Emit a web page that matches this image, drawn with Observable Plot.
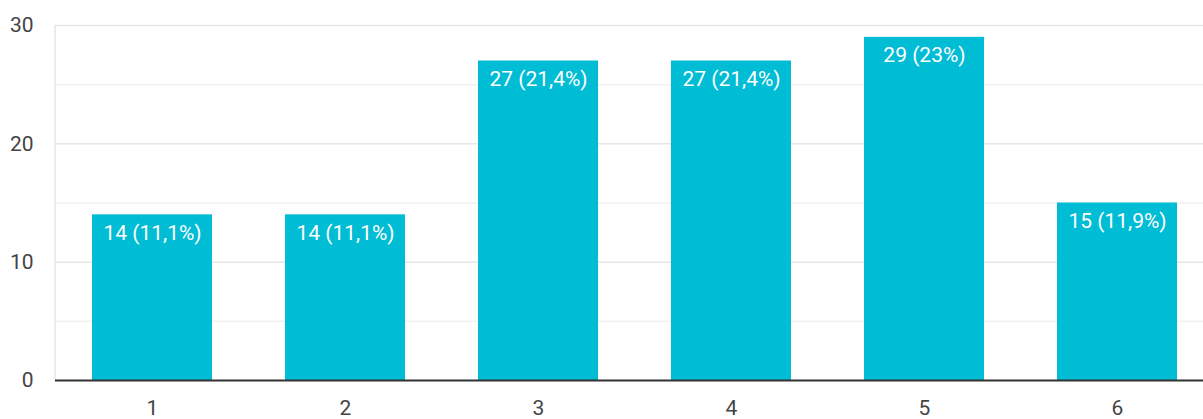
<!DOCTYPE html>
<html>
<head>
<meta charset="utf-8">
<script src="https://cdn.jsdelivr.net/npm/d3@7"></script>
<script src="https://cdn.jsdelivr.net/npm/@observablehq/plot@0.6"></script>
<style>
  html, body { margin: 0; padding: 0; background: #fff; }
  #chart svg { display: block; }
</style>
</head>
<body>
<div id="chart"></div>
<script>
const categories = ["1", "2", "3", "4", "5", "6"];
const counts = [14, 14, 27, 27, 29, 15];
const labels = ["14 (11,1%)", "14 (11,1%)", "27 (21,4%)", "27 (21,4%)", "29 (23%)", "15 (11,9%)"];
const majorTicks = [0, 10, 20, 30];
const minorTicks = [5, 15, 25];

const data = categories.map((c, i) => ({cat: c, value: counts[i], label: labels[i]}));

const font = "Roboto, 'Liberation Sans', Arial, sans-serif";

// left frame line drawn from the y scale's extent
function leftLine(index, scales, values, dims) {
  const g = d3.create("svg:g");
  const [y0, y1] = scales.y.range ? [scales.y(0), scales.y(30)] : [0, 0];
  g.append("line")
    .attr("x1", dims.marginLeft).attr("x2", dims.marginLeft)
    .attr("y1", y0).attr("y2", y1)
    .attr("stroke", "#e6e6e6").attr("stroke-width", 1.5);
  return g.node();
}

const chart = Plot.plot({
  width: 1203,
  height: 419,
  marginLeft: 55,
  marginTop: 25,
  marginBottom: 39,
  marginRight: 0,
  style: {fontFamily: font, background: "#fff"},
  x: {domain: categories, range: [56, 1214], paddingInner: 0.378, paddingOuter: 0.189, label: null},
  y: {domain: [0, 30], range: [380, 25], label: null},
  marks: [
    Plot.ruleY(minorTicks, {stroke: "#f1f1f1", strokeWidth: 1.5}),
    Plot.ruleY(majorTicks.filter(d => d > 0), {stroke: "#e6e6e6", strokeWidth: 1.5}),
    Plot.ruleY([0], {render: leftLine}),
    Plot.barY(data, {x: "cat", y: "value", fill: "#00bcd4"}),
    Plot.text(data, {x: "cat", y: "value", text: "label", fill: "#fff", fontSize: 21, lineAnchor: "top", dy: 10}),
    Plot.ruleY([0], {stroke: "#333", strokeWidth: 2}),
    Plot.axisY(majorTicks, {tickSize: 0, tickPadding: 22, fontSize: 21, fill: "#444", label: null}),
    Plot.axisX({tickSize: 0, tickPadding: 20, fontSize: 21, fill: "#444", label: null})
  ]
});

document.getElementById("chart").appendChild(chart);
</script>
</body>
</html>
